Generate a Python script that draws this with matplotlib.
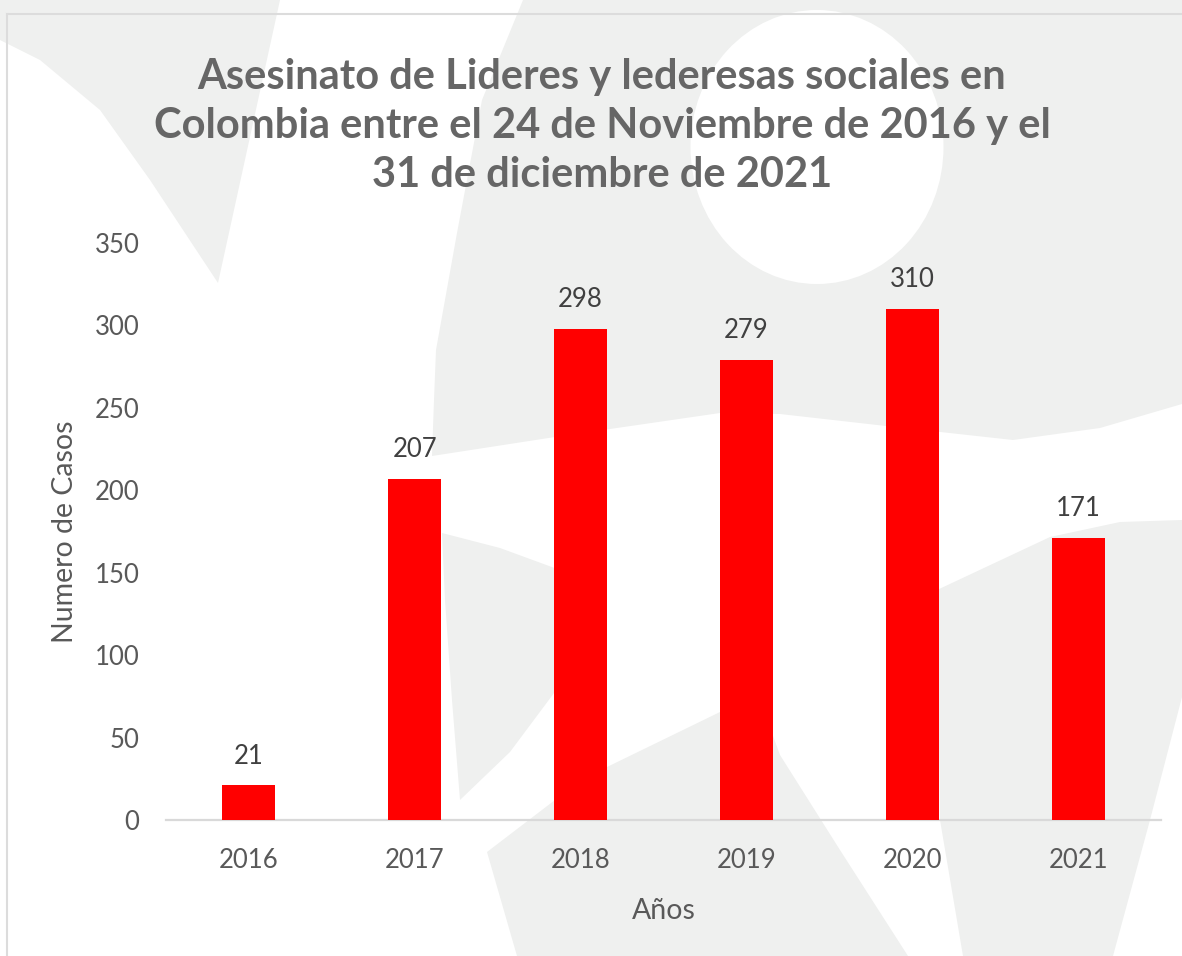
import matplotlib.pyplot as plt
from matplotlib.patches import Polygon, Ellipse
from matplotlib.lines import Line2D

years = ['2016', '2017', '2018', '2019', '2020', '2021']
casos = [21, 207, 298, 279, 310, 171]

W, H = 1182, 956
GRAY_BG = '#EFF0EF'


def px(pts):
    # pixel coords (from top-left) to figure fraction
    return [(x / W, 1 - y / H) for x, y in pts]


fig = plt.figure(figsize=(W / 100, H / 100), dpi=100)
fig.patch.set_facecolor('white')

# watermark shapes in the background
shapes = [
    [(0, 0), (280, 0), (218, 283), (150, 180), (100, 110), (40, 60), (0, 40)],
    [(523, 0), (1182, 0), (1182, 404), (1100, 428), (1013, 440), (886, 426),
     (780, 414), (720, 413), (555, 437), (432, 456), (434, 400), (436, 350),
     (457, 233), (482, 100)],
    [(442, 533), (500, 548), (560, 570), (560, 685), (510, 752), (460, 800),
     (452, 700), (445, 600)],
    [(487, 852), (555, 800), (607, 767), (720, 712), (760, 700), (780, 755),
     (840, 850), (908, 956), (517, 956)],
    [(937, 590), (1050, 537), (1120, 522), (1182, 520), (1182, 697),
     (1150, 820), (1113, 956), (963, 956), (940, 820)],
]
for s in shapes:
    fig.add_artist(Polygon(px(s), closed=True, transform=fig.transFigure,
                           facecolor=GRAY_BG, edgecolor='none', zorder=0))
cx, cy = px([(817, 147)])[0]
fig.add_artist(Ellipse((cx, cy), 253 / W, 274 / H, transform=fig.transFigure,
                       facecolor='white', edgecolor='none', zorder=0))

# chart border (top and left visible)
fig.add_artist(Line2D([7 / W, 1], [1 - 14 / H, 1 - 14 / H], transform=fig.transFigure,
                      color='#DCDCDC', lw=1.5, zorder=1))
fig.add_artist(Line2D([7 / W, 7 / W], [0, 1 - 14 / H], transform=fig.transFigure,
                      color='#DCDCDC', lw=1.5, zorder=1))

ax = fig.add_axes([166 / W, 1 - 820 / H, (1161 - 166) / W, (820 - 243) / H])
ax.set_facecolor('none')
ax.set_zorder(2)

x = list(range(len(years)))
bars = ax.bar(x, casos, width=0.32, color='#FF0000', zorder=3)
for rect, v in zip(bars, casos):
    ax.annotate(str(v), (rect.get_x() + rect.get_width() / 2, v),
                xytext=(0, 12), textcoords='offset points', ha='center', va='bottom',
                fontsize=18.5, color='#404040', family='Lato')

ax.set_xlim(-0.5, 5.5)
ax.set_ylim(0, 350)
ax.set_yticks(range(0, 351, 50))
ax.set_xticks(x)
ax.set_xticklabels(years)
ax.tick_params(axis='both', length=0, labelsize=18.5, labelcolor='#595959')
ax.tick_params(axis='y', pad=19)
ax.tick_params(axis='x', pad=20)
for lbl in ax.get_xticklabels() + ax.get_yticklabels():
    lbl.set_family('Lato')

for side in ['top', 'right', 'left']:
    ax.spines[side].set_visible(False)
ax.spines['bottom'].set_color('#D9D9D9')
ax.spines['bottom'].set_linewidth(1.6)

ax.set_ylabel('Numero de Casos', fontsize=20.5, color='#595959', family='Lato', labelpad=12)
ax.set_xlabel('Años', fontsize=20.5, color='#595959', family='Lato', labelpad=18)

fig.text(602 / W, 1 - 126 / H,
         'Asesinato de Lideres y lederesas sociales en\n'
         'Colombia entre el 24 de Noviembre de 2016 y el\n'
         '31 de diciembre de 2021',
         ha='center', va='center', fontsize=30, fontweight='bold', color='#666666',
         family='Lato', linespacing=1.36)

plt.savefig('out.png', dpi=100)
